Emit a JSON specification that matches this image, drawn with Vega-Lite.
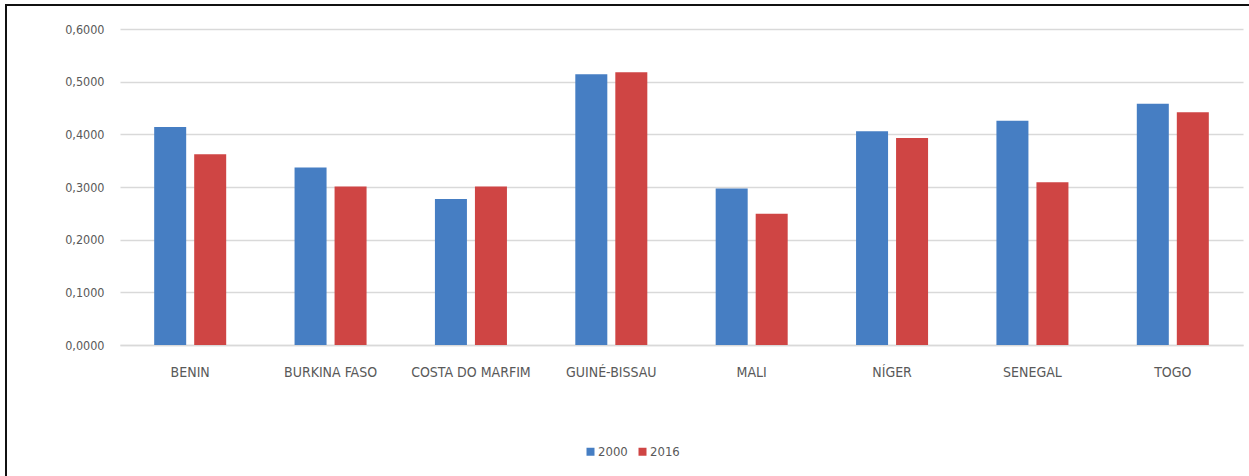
{
  "$schema": "https://vega.github.io/schema/vega-lite/v6.json",
  "autosize": {"type": "none"},
  "padding": {"left": 6, "top": 5, "right": 0, "bottom": 0},
  "width": 1243,
  "height": 471,
  "background": "white",
  "config": {
    "locale": {"number": {"decimal": ",", "thousands": ".", "grouping": [3], "currency": ["", ""]}},
    "view": {"stroke": "#111111", "strokeWidth": 2, "strokeDash": [1243, 1714, 471]},
    "font": "DejaVu Sans Condensed, Liberation Sans Narrow, sans-serif"
  },
  "data": {
    "values": [
      {"pais": "BENIN", "ano": "2000", "valor": 0.414},
      {"pais": "BENIN", "ano": "2016", "valor": 0.362},
      {"pais": "BURKINA FASO", "ano": "2000", "valor": 0.337},
      {"pais": "BURKINA FASO", "ano": "2016", "valor": 0.301},
      {"pais": "COSTA DO MARFIM", "ano": "2000", "valor": 0.277},
      {"pais": "COSTA DO MARFIM", "ano": "2016", "valor": 0.301},
      {"pais": "GUINÉ-BISSAU", "ano": "2000", "valor": 0.514},
      {"pais": "GUINÉ-BISSAU", "ano": "2016", "valor": 0.518},
      {"pais": "MALI", "ano": "2000", "valor": 0.297},
      {"pais": "MALI", "ano": "2016", "valor": 0.249},
      {"pais": "NÍGER", "ano": "2000", "valor": 0.406},
      {"pais": "NÍGER", "ano": "2016", "valor": 0.393},
      {"pais": "SENEGAL", "ano": "2000", "valor": 0.426},
      {"pais": "SENEGAL", "ano": "2016", "valor": 0.309},
      {"pais": "TOGO", "ano": "2000", "valor": 0.458},
      {"pais": "TOGO", "ano": "2016", "valor": 0.442}
    ]
  },
  "mark": {"type": "bar"},
  "encoding": {
    "x": {
      "field": "pais",
      "type": "nominal",
      "sort": null,
      "scale": {"range": [114, 1237], "paddingInner": 0.487, "paddingOuter": 0.2435},
      "axis": {
        "title": null,
        "labelAngle": 0,
        "ticks": false,
        "domain": true,
        "domainColor": "#D9D9D9",
        "domainWidth": 1.5,
        "offset": -131,
        "labelPadding": 20,
        "labelFontSize": 14,
        "labelColor": "#595959"
      }
    },
    "xOffset": {
      "field": "ano",
      "type": "nominal",
      "scale": {"paddingInner": 0.2, "paddingOuter": 0}
    },
    "y": {
      "field": "valor",
      "type": "quantitative",
      "scale": {"domain": [0, 0.6], "nice": false, "range": [340, 24]},
      "axis": {
        "title": null,
        "values": [0, 0.1, 0.2, 0.3, 0.4, 0.5, 0.6],
        "format": ".4f",
        "ticks": false,
        "domain": false,
        "offset": -114,
        "gridColor": "#D9D9D9",
        "gridWidth": 1.5,
        "labelPadding": 16,
        "labelFontSize": 12.5,
        "labelColor": "#595959"
      }
    },
    "color": {
      "field": "ano",
      "type": "nominal",
      "scale": {"domain": ["2000", "2016"], "range": ["#467EC3", "#CF4544"]},
      "legend": {
        "title": null,
        "orient": "none",
        "direction": "horizontal",
        "legendX": 578,
        "legendY": 440,
        "symbolType": "square",
        "symbolSize": 64,
        "symbolStrokeWidth": 0,
        "labelFontSize": 13,
        "labelColor": "#595959",
        "labelOffset": 1,
        "columnPadding": 8
      }
    }
  }
}
